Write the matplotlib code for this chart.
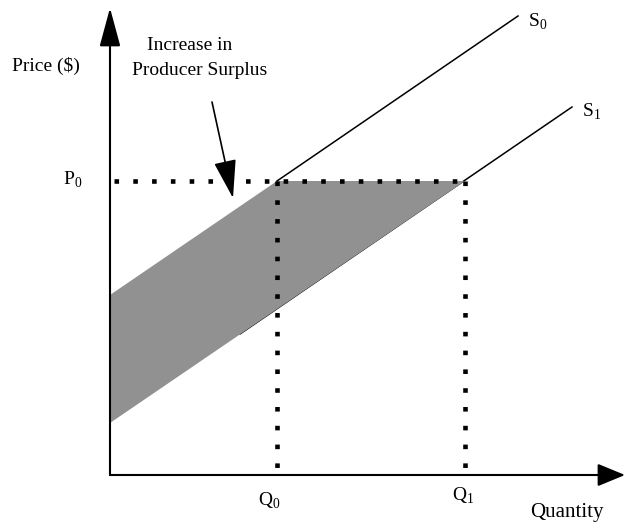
import matplotlib.pyplot as plt

plt.rcParams["font.family"] = ["Liberation Serif", "DejaVu Serif"]
plt.rcParams["mathtext.fontset"] = "custom"
plt.rcParams["mathtext.rm"] = "Liberation Serif"

# Data (quantity / price units measured from the origin)
Q0: float = 167
Q1: float = 355
P0: float = 294
S0_Q: list = [167, 408]
S0_P: list = [294, 459]
S1_Q: list = [130, 462]
S1_P: list = [141, 368]
AREA_Q: list = [0, 167, 355, 0]
AREA_P: list = [180, 294, 294, 52]

FILL_COLOR: str = "#919191"
DOT_STYLE = (0, (1, 3.1))


def main() -> None:
    fig = plt.figure(figsize=(6.26, 5.24), dpi=100)
    ax = fig.add_axes([0, 0, 1, 1])
    ax.set_xlim(-110, 516)
    ax.set_ylim(-49, 475)
    ax.axis("off")

    # shaded producer-surplus gain
    ax.fill(AREA_Q, AREA_P, color=FILL_COLOR, lw=0, zorder=2)

    # supply curves
    ax.plot(S0_Q, S0_P, color="black", lw=1.1, zorder=3)
    ax.plot(S1_Q, S1_P, color="black", lw=1.1, zorder=1)

    # dotted guides
    dots = dict(color="black", lw=3.3, linestyle=DOT_STYLE,
                dash_capstyle="butt", zorder=4)
    ax.plot([4, Q1], [P0, P0], **dots)
    ax.plot([Q0, Q0], [P0, 2], **dots)
    ax.plot([Q1, Q1], [P0, 2], **dots)

    # axes with arrow heads
    ax.annotate("", xy=(0, 467), xytext=(0, 0),
                arrowprops=dict(arrowstyle="-|>,head_length=2.4,head_width=0.65",
                                color="black", lw=1.5, shrinkA=0, shrinkB=0))
    ax.annotate("", xy=(515, 0), xytext=(0, 0),
                arrowprops=dict(arrowstyle="-|>,head_length=1.7,head_width=0.7",
                                color="black", lw=1.5, shrinkA=0, shrinkB=0))

    # annotation arrow
    ax.annotate("", xy=(123, 277), xytext=(102, 373),
                arrowprops=dict(arrowstyle="-|>,head_length=2.4,head_width=0.7",
                                color="black", lw=1.2, shrinkA=0, shrinkB=0))

    fs = 14
    txt = dict(fontsize=fs, ha="left", va="baseline")
    ax.text(-98, 404, "Price ($)", **txt)
    ax.text(37, 425, "Increase in", **txt)
    ax.text(22, 400, "Producer Surplus", **txt)
    ax.text(-47, 290, r"P$_0$", **txt)
    ax.text(418, 448, r"S$_0$", **txt)
    ax.text(472, 358, r"S$_1$", **txt)
    ax.text(148, -31, r"Q$_0$", **txt)
    ax.text(342, -26, r"Q$_1$", **txt)
    ax.text(420, -42, "Quantity", fontsize=15, ha="left", va="baseline")

    fig.savefig("out.png", dpi=100)


main()
